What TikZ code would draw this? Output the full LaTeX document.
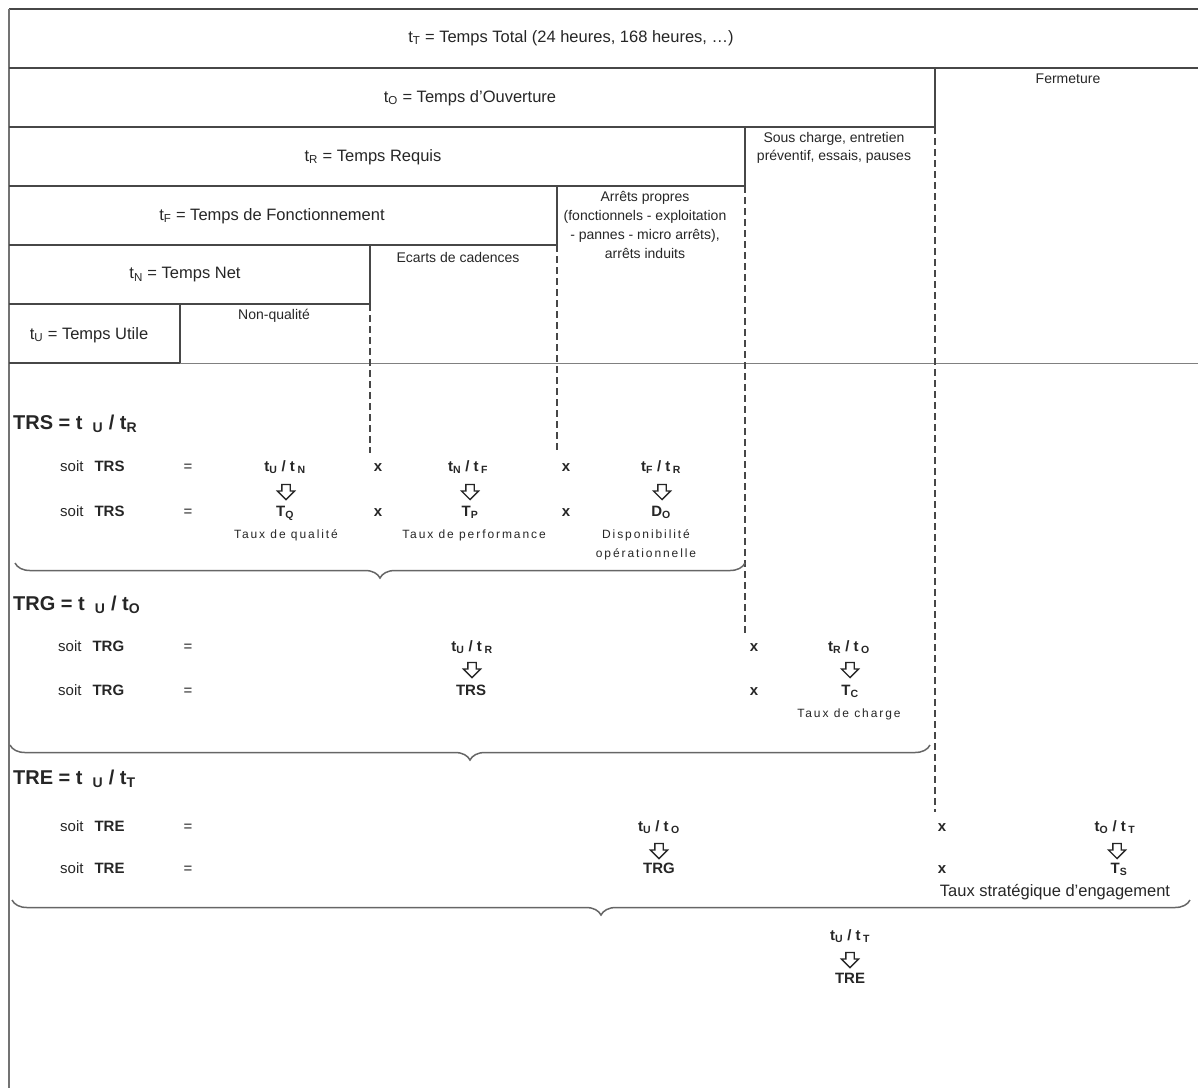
\documentclass[tikz,border=0pt]{standalone}
\usepackage{fontspec}
\setmainfont{Liberation Sans}
\newfontfamily\spacedfont[LetterSpace=16]{Liberation Sans}
\usetikzlibrary{decorations.pathreplacing,shapes.arrows}
\definecolor{txt}{gray}{0.15}
\definecolor{lin}{gray}{0.28}
\begin{document}
\begin{tikzpicture}[x=1pt,y=-1pt,
  boxln/.style={draw=lin,line width=2pt},
  dashln/.style={draw=lin,line width=1.8pt,dash pattern=on 7pt off 4pt},
  big/.style={font=\fontsize{16.5}{19}\selectfont,text=txt,inner sep=0pt},
  small/.style={font=\fontsize{14}{18.7}\selectfont,text=txt,inner sep=0pt,align=center},
  head/.style={font=\fontsize{20}{24}\selectfont\bfseries,text=txt,inner sep=0pt,anchor=base west},
  rowtxt/.style={font=\fontsize{15}{18}\selectfont,text=txt,inner sep=0pt,anchor=base},
  frm/.style={font=\fontsize{15}{18}\selectfont\bfseries,text=txt,inner sep=0pt,anchor=base},
  sp/.style={font=\fontsize{12}{16}\selectfont\spacedfont,text=txt,inner sep=0pt,anchor=base},
  darrow/.style={single arrow,draw=txt,line width=1.3pt,shape border rotate=270,
    inner sep=3.5pt,single arrow head extend=4.5pt,minimum height=15pt},
  brc/.style={draw=black!60,line width=1.5pt,decorate,decoration={brace,amplitude=15pt}}]
\useasboundingbox (0,0) rectangle (1198,1088);
% frame
\draw[draw=lin,line width=2.5pt] (1198,9) -- (9,9);
\draw[draw=black!55,line width=2.5pt] (9,9) -- (9,1088);
\draw[boxln] (9,68) -- (1198,68);
\draw[boxln] (9,127) -- (935,127);
\draw[boxln] (935,68) -- (935,127);
\draw[boxln] (9,186) -- (745,186);
\draw[boxln] (745,127) -- (745,186);
\draw[boxln] (9,245) -- (557,245);
\draw[boxln] (557,186) -- (557,245);
\draw[boxln] (9,304) -- (370,304);
\draw[boxln] (370,245) -- (370,304);
\draw[boxln] (180,304) -- (180,363) -- (9,363);
\draw[draw=black!50,line width=1pt] (180,363) -- (1198,363);
\draw[dashln] (935,127) -- (935,812);
\draw[dashln] (745,186) -- (745,633);
\draw[dashln] (557,245) -- (557,453);
\draw[dashln] (370,304) -- (370,453);
% box labels
\node[big] (tT) at (571,38) {t\textsubscript{T} = Temps Total (24 heures, 168 heures, …)};
\node[big] (tO) at (470,98) {t\textsubscript{O} = Temps d'Ouverture};
\node[big] (tR) at (373,157) {t\textsubscript{R} = Temps Requis};
\node[big] (tF) at (272,216) {t\textsubscript{F} = Temps de Fonctionnement};
\node[big] (tN) at (185,275) {t\textsubscript{N} = Temps Net};
\node[big] (tU) at (89,335) {t\textsubscript{U} = Temps Utile};
\node[small] (nq) at (274,316) {Non-qualité};
\node[small] (ec) at (458,257) {Ecarts de cadences};
\node[small] (ap) at (645,225) {Arrêts propres\\(fonctionnels - exploitation\\- pannes - micro arrêts),\\arrêts induits};
\node[small] (sc) at (834,148) {Sous charge, entretien\\préventif, essais, pauses};
\node[small] (fe) at (1068,79) {Fermeture};
% TRS block
\node[head] (hTRS) at (13,429) {TRS = t\enspace\textsubscript{U} / t\textsubscript{R}};
\node[rowtxt,anchor=base west] (s1a) at (60,471) {soit\hspace{11pt}\textbf{TRS}};
\node[rowtxt] (e1a) at (188,471) {=};
\node[frm] (f1a) at (285,471) {t\textsubscript{U} / t\,\textsubscript{N}};
\node[frm] (x1a) at (378,471) {x};
\node[frm] (f1b) at (468,471) {t\textsubscript{N} / t\,\textsubscript{F}};
\node[frm] (x1b) at (566,471) {x};
\node[frm] (f1c) at (661,471) {t\textsubscript{F} / t\,\textsubscript{R}};
\node[darrow] (a1a) at (286,490) {};
\node[darrow] (a1b) at (470,490) {};
\node[darrow] (a1c) at (662,490) {};
\node[rowtxt,anchor=base west] (s1b) at (60,516) {soit\hspace{11pt}\textbf{TRS}};
\node[rowtxt] (e1b) at (188,516) {=};
\node[frm] (tq) at (285,516) {T\textsubscript{Q}};
\node[frm] (x1c) at (378,516) {x};
\node[frm] (tp) at (470,516) {T\textsubscript{P}};
\node[frm] (x1d) at (566,516) {x};
\node[frm] (do) at (661,516) {D\textsubscript{O}};
\node[sp] (lq) at (286,538) {Taux de qualité};
\node[sp] (lp) at (474,538) {Taux de performance};
\node[sp] (ld1) at (646,538) {Disponibilité};
\node[sp] (ld2) at (646,557) {opérationnelle};
\draw[brc] (745,563) -- (15,563);
% TRG block
\node[head] (hTRG) at (13,610) {TRG = t\enspace\textsubscript{U} / t\textsubscript{O}};
\node[rowtxt,anchor=base west] (s2a) at (58,651) {soit\hspace{11pt}\textbf{TRG}};
\node[rowtxt] (e2a) at (188,651) {=};
\node[frm] (f2a) at (472,651) {t\textsubscript{U} / t\,\textsubscript{R}};
\node[frm] (x2a) at (754,651) {x};
\node[frm] (f2b) at (849,651) {t\textsubscript{R} / t\,\textsubscript{O}};
\node[darrow] (a2a) at (472,668) {};
\node[darrow] (a2b) at (850,668) {};
\node[rowtxt,anchor=base west] (s2b) at (58,695) {soit\hspace{11pt}\textbf{TRG}};
\node[rowtxt] (e2b) at (188,695) {=};
\node[frm] (trs) at (471,695) {TRS};
\node[frm] (x2b) at (754,695) {x};
\node[frm] (tc) at (850,695) {T\textsubscript{C}};
\node[sp] (lc) at (849,717) {Taux de charge};
\draw[brc] (930,745) -- (10,745);
% TRE block
\node[head] (hTRE) at (13,784) {TRE = t\enspace\textsubscript{U} / t\textsubscript{T}};
\node[rowtxt,anchor=base west] (s3a) at (60,831) {soit\hspace{11pt}\textbf{TRE}};
\node[rowtxt] (e3a) at (188,831) {=};
\node[frm] (f3a) at (659,831) {t\textsubscript{U} / t\,\textsubscript{O}};
\node[frm] (x3a) at (942,831) {x};
\node[frm] (f3b) at (1115,831) {t\textsubscript{O} / t\,\textsubscript{T}};
\node[darrow] (a3a) at (659,849) {};
\node[darrow] (a3b) at (1117,849) {};
\node[rowtxt,anchor=base west] (s3b) at (60,873) {soit\hspace{11pt}\textbf{TRE}};
\node[rowtxt] (e3b) at (188,873) {=};
\node[frm] (trg) at (659,873) {TRG};
\node[frm] (x3b) at (942,873) {x};
\node[frm] (ts) at (1119,873) {T\textsubscript{S}};
\node[big,anchor=base] (ls) at (1055,896) {Taux stratégique d'engagement};
\draw[brc] (1190,900) -- (12,900);
\node[frm] (f4) at (850,940) {t\textsubscript{U} / t\,\textsubscript{T}};
\node[darrow] (a4) at (850,958) {};
\node[frm] (tre) at (850,983) {TRE};
\end{tikzpicture}
\end{document}
